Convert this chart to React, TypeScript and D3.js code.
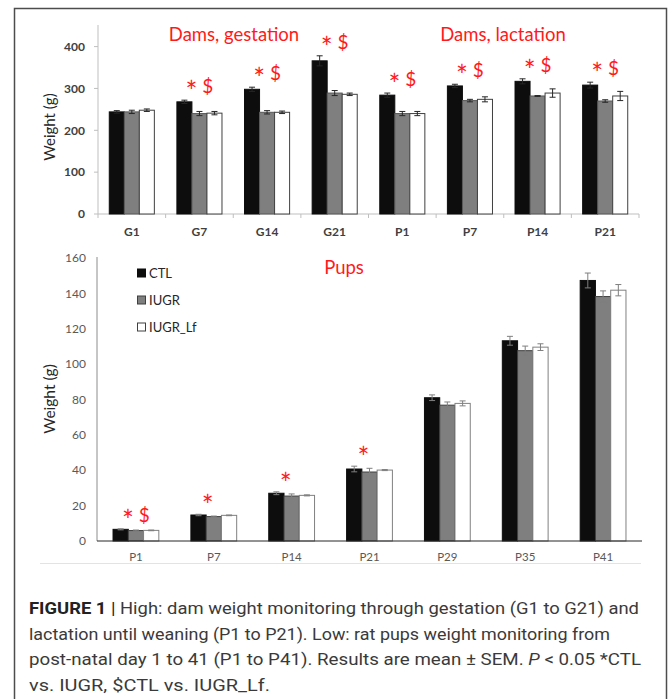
import * as d3 from "d3";

// dams (top panel)
const damCategories = ["G1", "G7", "G14", "G21", "P1", "P7", "P14", "P21"];
const damCTL = [244, 268, 298, 366, 284, 306, 317, 308];
const damCTLErr = [3, 4, 5, 12, 5, 4, 6, 7];
const damIUGR = [244, 240, 243, 289, 240, 271, 282, 270];
const damIUGRErr = [4, 5, 4, 6, 5, 3, 1, 3];
const damLf = [248, 241, 243, 286, 240, 274, 289, 282];
const damLfErr = [3, 4, 3, 3, 5, 6, 10, 11];
const damSig = ["", "* $", "* $", "* $", "* $", "* $", "* $", "* $"];
const damTicks = [0, 100, 200, 300, 400];

// pups (bottom panel)
const pupCategories = ["P1", "P7", "P14", "P21", "P29", "P35", "P41"];
const pupCTL = [6.6, 14.7, 27, 40.7, 81, 113.2, 147.3];
const pupCTLErr = [0.3, 0.4, 0.8, 1.6, 1.6, 2.5, 4.2];
const pupIUGR = [5.9, 13.8, 25.4, 39, 76.8, 107.6, 138.2];
const pupIUGRErr = [0.3, 0.3, 1.2, 2.1, 1.8, 2.6, 3.2];
const pupLf = [6.0, 14.5, 25.8, 40.1, 77.8, 109.6, 141.8];
const pupLfErr = [0.2, 0.2, 0.3, 0.3, 1.4, 1.9, 3.2];
const pupSig = ["* $", "*", "*", "*", "", "", ""];
const pupTicks = [0, 20, 40, 60, 80, 100, 120, 140, 160];

const seriesNames = ["CTL", "IUGR", "IUGR_Lf"];
const seriesFill = ["#0d0d0d", "#7f7f7f", "#ffffff"];

const captionLines = [
  "High: dam weight monitoring through gestation (G1 to G21) and",
  "lactation until weaning (P1 to P21). Low: rat pups weight monitoring from",
  "post-natal day 1 to 41 (P1 to P41). Results are mean \u00b1 SEM. ",
  "vs. IUGR, $CTL vs. IUGR_Lf.",
];

const font = "Lato, 'Open Sans', sans-serif";
const red = "#ff1a1a";

type Panel = {
  cats: string[];
  vals: number[][];
  errs: number[][];
};

const Bars = ({ p, x, y, inner, errColor, barStroke }: any) => {
  const { cats, vals, errs } = p as Panel;
  return (
    <g>
      {cats.map((c, i) => (
        <g key={c} transform={`translate(${x(c)},0)`}>
          {seriesNames.map((s, k) => {
            const bx = inner(s);
            const w = inner.bandwidth();
            const v = vals[k][i];
            const e = errs[k][i];
            const cx = bx + w / 2;
            return (
              <g key={s}>
                <rect
                  x={bx}
                  y={y(v)}
                  width={w}
                  height={y(0) - y(v)}
                  fill={seriesFill[k]}
                  stroke={barStroke[k]}
                  strokeWidth={1}
                />
                <g stroke={errColor} strokeWidth={1}>
                  <line x1={cx} x2={cx} y1={y(v + e)} y2={y(v - e)} />
                  <line x1={cx - 3} x2={cx + 3} y1={y(v + e)} y2={y(v + e)} />
                  <line x1={cx - 3} x2={cx + 3} y1={y(v - e)} y2={y(v - e)} />
                </g>
              </g>
            );
          })}
        </g>
      ))}
    </g>
  );
};

// red significance mark: big centred asterisk, optional dollar
const Sig = ({ x, y, label }: { x: number; y: number; label: string }) => (
  <text x={x} y={y} textAnchor="middle" fontSize={19} fill={red}>
    <tspan fontSize={28} dy={9}>
      *
    </tspan>
    {label.includes("$") ? <tspan dy={-9}>{" $"}</tspan> : null}
  </text>
);

export default function App() {
  // ---- top panel scales
  const x1 = d3.scaleBand().domain(damCategories).range([98, 639]);
  const inner1 = d3.scaleBand().domain(seriesNames).range([0, x1.bandwidth()]).paddingOuter(0.75);
  const y1 = d3.scaleLinear().domain([0, 400]).range([214, 46.6]);

  // ---- bottom panel scales
  const x2 = d3.scaleBand().domain(pupCategories).range([97, 642]);
  const inner2 = d3.scaleBand().domain(seriesNames).range([0, x2.bandwidth()]).paddingOuter(1.05);
  const y2 = d3.scaleLinear().domain([0, 160]).range([541, 258]);

  const top: Panel = {
    cats: damCategories,
    vals: [damCTL, damIUGR, damLf],
    errs: [damCTLErr, damIUGRErr, damLfErr],
  };
  const bottom: Panel = {
    cats: pupCategories,
    vals: [pupCTL, pupIUGR, pupLf],
    errs: [pupCTLErr, pupIUGRErr, pupLfErr],
  };

  return (
    <svg
      width={669}
      height={699}
      style={{ position: "absolute", left: 0, top: 0, background: "#fff" }}
      fontFamily={font}
    >
      <rect x={0} y={0} width={669} height={699} fill="#fff" />
      {/* outer frame */}
      <rect x={14.5} y={8.5} width={652} height={720} fill="none" stroke="#4d4d4d" strokeWidth={1.5} />

      {/* ===== top panel ===== */}
      <line x1={98} x2={98} y1={25} y2={214} stroke="#bfbfbf" />
      {damTicks.map((t) => (
        <g key={t}>
          <line x1={94} x2={98} y1={y1(t)} y2={y1(t)} stroke="#bfbfbf" />
          <text x={85} y={y1(t)} dy="0.35em" textAnchor="end" fontSize={12} fontWeight={700} fill="#404040">
            {t}
          </text>
        </g>
      ))}
      <line x1={98} x2={639} y1={214} y2={214} stroke="#bfbfbf" />
      {[...damCategories.map((c) => x1(c)!), 639].map((t, i) => (
        <line key={i} x1={t} x2={t} y1={214} y2={218} stroke="#bfbfbf" />
      ))}
      {damCategories.map((c) => (
        <text
          key={c}
          x={x1(c)! + x1.bandwidth() / 2}
          y={236}
          textAnchor="middle"
          fontSize={12}
          fontWeight={700}
          fill="#404040"
        >
          {c}
        </text>
      ))}
      <text transform="translate(55,127) rotate(-90)" textAnchor="middle" fontSize={15} fill="#262626">
        Weight (g)
      </text>
      <Bars p={top} x={x1} y={y1} inner={inner1} errColor="#262626" barStroke={["#0d0d0d", "#595959", "#404040"]} />
      {damCategories.map((c, i) =>
        damSig[i] ? (
          <Sig key={c} x={x1(c)! + x1.bandwidth() / 2} y={y1(damCTL[i] + damCTLErr[i]) - 7} label={damSig[i]} />
        ) : null
      )}
      <text x={234} y={41} textAnchor="middle" fontSize={18.5} fill={red}>
        Dams, gestation
      </text>
      <text x={503} y={41} textAnchor="middle" fontSize={18.5} fill={red}>
        Dams, lactation
      </text>

      {/* ===== bottom panel ===== */}
      <line x1={97} x2={97} y1={257} y2={541} stroke="#8c8c8c" />
      {pupTicks.map((t) => (
        <text key={t} x={86} y={y2(t)} dy="0.35em" textAnchor="end" fontSize={12} fill="#595959">
          {t}
        </text>
      ))}
      <Bars p={bottom} x={x2} y={y2} inner={inner2} errColor="#7f7f7f" barStroke={["#0d0d0d", "#404040", "#808080"]} />
      <line x1={97} x2={642} y1={541} y2={541} stroke="#262626" />
      {pupCategories.map((c) => (
        <text
          key={c}
          x={x2(c)! + x2.bandwidth() / 2}
          y={561}
          textAnchor="middle"
          fontSize={11.5}
          fill="#595959"
        >
          {c}
        </text>
      ))}
      <text transform="translate(55,399) rotate(-90)" textAnchor="middle" fontSize={15.5} fill="#262626">
        Weight (g)
      </text>
      {pupCategories.map((c, i) =>
        pupSig[i] ? (
          <Sig
            key={c}
            x={x2(c)! + x2.bandwidth() / 2 - (pupSig[i] === "*" ? 6 : 0)}
            y={y2(pupCTL[i] + pupCTLErr[i]) - 7}
            label={pupSig[i]}
          />
        ) : null
      )}
      <text x={344} y={274} textAnchor="middle" fontSize={18.5} fill={red}>
        Pups
      </text>
      {seriesNames.map((s, k) => (
        <g key={s} transform={`translate(137,${273 + k * 27})`}>
          <rect x={0.5} y={-4} width={8} height={8} fill={seriesFill[k]} stroke={k === 0 ? "#0d0d0d" : "#404040"} />
          <text x={12} y={0} dy="0.35em" fontSize={13} fill="#262626">
            {s}
          </text>
        </g>
      ))}

      {/* separator + caption */}
      <line x1={40} x2={641} y1={563.5} y2={563.5} stroke="#e3e3e3" />
      <g fontFamily="'Liberation Sans Narrow', 'Roboto', sans-serif" fontSize={17} fill="#3a3a3a">
        <text x={29} y={614} textLength={610} lengthAdjust="spacingAndGlyphs">
          <tspan fontWeight={700} fill="#222">FIGURE 1</tspan>
          <tspan fill="#222"> | </tspan>
          {captionLines[0]}
        </text>
        <text x={29} y={640} textLength={581} lengthAdjust="spacingAndGlyphs">
          {captionLines[1]}
        </text>
        <text x={29} y={665} textLength={612} lengthAdjust="spacingAndGlyphs">
          {captionLines[2]}
          <tspan fontStyle="italic">P</tspan>
          {" < 0.05 *CTL"}
        </text>
        <text x={29} y={691} textLength={241} lengthAdjust="spacingAndGlyphs">
          {captionLines[3]}
        </text>
      </g>
    </svg>
  );
}
